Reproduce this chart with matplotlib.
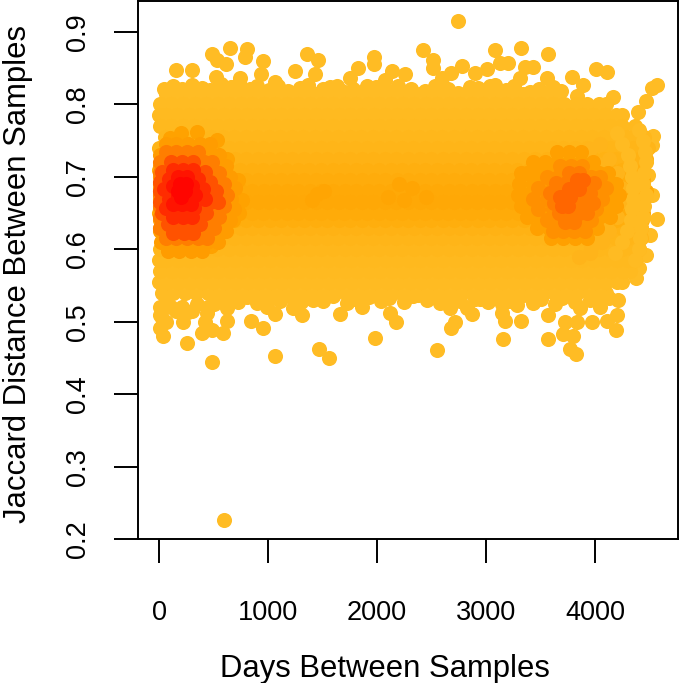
import matplotlib
matplotlib.use('Agg')
import matplotlib.pyplot as plt

plt.rcParams['font.family'] = ['Liberation Sans', 'DejaVu Sans']

# points standing clear of the cloud, read one by one
loose_x = [651, 807, 789, 486, 615, 532, 156, 303, 954, 936, 523, 1248, 1358, 1459, 1431, 1752, 1826, 1972, 1972, 2138,
           2257, 2073, 1908, 1633, 743, 1064, 2743, 2422, 2514, 2514, 3083, 3321, 3569, 2780, 2679, 2596, 2899, 3009,
           3128, 3202, 3358, 3431, 4009, 4110, 4569, 4523, 4468, 4394, 3083, 2927, 3312, 3560, 3789, 3890, 4165, 4532,
           4523, 4486, 4523, 4569, 4505, 4468, 4404, 4376, 596, 486, 257, 37, 9, 394, 486, 587, 624, 422, 220, 9, 844,
           954, 1064, 991, 1064, 1312, 1229, 1468, 1560, 1661, 1862, 1871, 1982, 2119, 2174, 1413, 2550, 2679, 2716,
           2872, 2826, 2670, 2945, 3156, 3174, 3147, 3147, 3321, 3284, 3569, 3569, 3706, 3798, 3771, 3826, 3725, 3835,
           3972, 4110, 4193, 4202, 4211, 2376, 2514, 3128, 4046, 3862, 624, 266, 440]
loose_y = [.878, .876, .865, .870, .856, .861, .848, .848, .860, .842, .838, .846, .870, .861, .842, .836, .850, .865,
           .856, .846, .842, .834, .825, .825, .836, .831, .915, .875, .861, .850, .875, .878, .870, .853, .843, .836,
           .843, .849, .857, .857, .852, .852, .849, .845, .827, .823, .805, .789, .827, .823, .836, .836, .838, .827,
           .810, .756, .744, .702, .675, .642, .620, .592, .574, .560, .226, .444, .470, .480, .491, .484, .488, .484,
           .501, .499, .499, .509, .501, .491, .510, .520, .452, .509, .519, .463, .450, .510, .520, .532, .477, .512,
           .499, .530, .461, .491, .499, .510, .519, .519, .531, .476, .501, .512, .524, .501, .523, .476, .509, .483,
           .480, .463, .455, .499, .499, .499, .501, .488, .509, .530, .537, .537, .546, .520, .519, .519, .513, .512]

# uneven upper and lower borders of the cloud
edge_x = [50, 130, 210, 300, 390, 470, 570, 660, 730, 830, 900, 1010, 1090, 1180, 1290, 1370, 1500, 1570, 1680, 1780, 1860, 1990, 2090, 2190, 2310, 2440, 2530, 2650, 2740, 2850, 2970, 3040, 3180, 3260, 3400, 3490, 3610, 3690, 3830,
          10, 60, 110, 160, 210, 30, 60, 300, 350, 450, 500, 550, 620, 720, 810, 900, 1000, 1110, 1190, 1300, 1380, 1500, 1600, 1720, 1800, 1930, 2040, 2110, 2250, 2330, 2460, 2580, 2690, 2760, 2900, 3020, 3090, 3210, 3320, 3430, 3500, 3630, 3700, 3820, 3950, 4040, 4130]
edge_y = [.822, .826, .821, .827, .823, .820, .828, .824, .829, .822, .826, .820, .825, .819, .823, .827, .821, .824, .818, .822, .817, .824, .819, .826, .822, .818, .825, .821, .816, .824, .819, .826, .820, .825, .817, .822, .824, .818, .812,
          .520, .525, .520, .515, .520, .505, .500, .515, .525, .520, .525, .530, .530, .527, .534, .526, .531, .528, .535, .527, .533, .529, .535, .526, .532, .534, .528, .533, .527, .535, .530, .526, .534, .528, .532, .527, .533, .529, .535, .526, .531, .525, .533, .527, .530, .528, .533]

# the cloud itself, row by row, from the palest rim inward
body_y = [.815, .540, .800, .555, .785, .570, .770, .585, .755, .600, .740, .615, .725, .630, .710, .640, .695, .650, .680, .665]
body_colors = ['#FFBC24', '#FFBC24', '#FFBB22', '#FFBB22', '#FFBA20', '#FFBA20', '#FFB91E', '#FFB91E', '#FFB71B', '#FFB71B',
               '#FFB518', '#FFB518', '#FFB214', '#FFB214', '#FFAF0F', '#FFAE0D', '#FFAC0B', '#FFAB09', '#FFA907', '#FFA806']
body_x = [
    [64, 168, 275, 379, 486, 590, 698, 801, 910, 1012, 1121, 1224, 1333, 1436, 1544, 1647, 1755, 1858, 1966, 2070, 2177, 2281, 2390, 2493, 2601, 2704, 2812, 2916, 3024, 3127, 3235, 3339, 3446, 3550, 3660],
    [24, 128, 236, 342, 446, 552, 660, 764, 870, 976, 1082, 1188, 1294, 1400, 1506, 1612, 1718, 1824, 1930, 2036, 2142, 2248, 2354, 2460, 2566, 2672, 2778, 2884, 2990, 3096, 3202, 3308, 3414, 3520, 3626, 3732, 3838, 3944, 4050, 4100],
    [8, 113, 221, 326, 431, 538, 643, 751, 855, 962, 1067, 1175, 1279, 1387, 1491, 1598, 1702, 1811, 1914, 2022, 2127, 2234, 2338, 2446, 2550, 2658, 2762, 2870, 2975, 3082, 3186, 3294, 3398, 3506, 3610, 3718, 3822, 3930, 4034, 4105],
    [3, 72, 178, 284, 392, 496, 604, 708, 816, 920, 1028, 1132, 1240, 1344, 1452, 1556, 1664, 1768, 1876, 1980, 2088, 2192, 2300, 2404, 2512, 2616, 2724, 2828, 2936, 3040, 3148, 3252, 3360, 3464, 3572, 3676, 3784, 3888, 3996, 4100, 4205, 4245],
    [2, 62, 166, 272, 378, 484, 592, 696, 803, 908, 1015, 1120, 1226, 1332, 1438, 1544, 1650, 1756, 1862, 1968, 2074, 2180, 2286, 2392, 2498, 2604, 2710, 2816, 2922, 3028, 3134, 3240, 3346, 3452, 3558, 3664, 3770, 3876, 3982, 4088, 4190, 4250],
    [6, 118, 224, 330, 438, 542, 650, 754, 862, 966, 1074, 1178, 1286, 1390, 1498, 1602, 1710, 1814, 1922, 2026, 2134, 2238, 2346, 2450, 2558, 2662, 2770, 2874, 2982, 3086, 3194, 3298, 3406, 3510, 3618, 3722, 3830, 3934, 4042, 4146, 4254, 4320],
    [5, 110, 218, 322, 430, 534, 642, 746, 854, 958, 1066, 1170, 1278, 1382, 1490, 1594, 1702, 1806, 1914, 2018, 2126, 2230, 2338, 2442, 2550, 2654, 2762, 2866, 2974, 3078, 3186, 3290, 3398, 3502, 3610, 3714, 3822, 3926, 4034, 4138, 4246, 4365],
    [2, 64, 172, 276, 384, 488, 596, 700, 808, 912, 1020, 1124, 1232, 1336, 1444, 1548, 1656, 1760, 1868, 1972, 2080, 2184, 2292, 2396, 2504, 2608, 2716, 2820, 2928, 3032, 3140, 3244, 3352, 3456, 3564, 3668, 3776, 3880, 3988, 4092, 4200, 4304, 4370],
    [52, 160, 264, 372, 476, 584, 688, 796, 900, 1008, 1112, 1220, 1324, 1432, 1536, 1644, 1748, 1856, 1960, 2068, 2172, 2280, 2384, 2492, 2596, 2704, 2808, 2916, 3020, 3128, 3232, 3340, 3444, 3552, 3656, 3764, 3868, 3976, 4080, 4188, 4292, 4400, 4450],
    [6, 112, 218, 324, 430, 536, 642, 748, 854, 960, 1066, 1172, 1278, 1384, 1490, 1596, 1702, 1808, 1914, 2020, 2126, 2232, 2338, 2444, 2550, 2656, 2762, 2868, 2974, 3080, 3186, 3292, 3398, 3504, 3610, 3716, 3822, 3928, 4034, 4140, 4246, 4352, 4400],
    [4, 106, 214, 318, 426, 530, 638, 742, 850, 954, 1062, 1166, 1274, 1378, 1486, 1590, 1698, 1802, 1910, 2014, 2122, 2226, 2334, 2438, 2546, 2650, 2758, 2862, 2970, 3074, 3182, 3286, 3394, 3498, 3606, 3710, 3818, 3922, 4030, 4134, 4242, 4346, 4488],
    [56, 162, 268, 374, 480, 586, 692, 798, 904, 1010, 1116, 1222, 1328, 1434, 1540, 1646, 1752, 1858, 1964, 2070, 2176, 2282, 2388, 2494, 2600, 2706, 2812, 2918, 3024, 3130, 3236, 3342, 3448, 3554, 3660, 3766, 3872, 3978, 4084, 4190, 4296, 4420],
    [58, 164, 270, 376, 482, 588, 694, 800, 906, 1012, 1118, 1224, 1330, 1436, 1542, 1648, 1754, 1860, 1966, 2072, 2178, 2284, 2390, 2496, 2602, 2708, 2814, 2920, 3026, 3132, 3238, 3344, 3450, 3556, 3662, 3768, 3874, 3980, 4086, 4192, 4298, 4404, 4470],
    [8, 114, 220, 326, 432, 538, 644, 750, 856, 962, 1068, 1174, 1280, 1386, 1492, 1598, 1704, 1810, 1916, 2022, 2128, 2234, 2340, 2446, 2552, 2658, 2764, 2870, 2976, 3082, 3188, 3294, 3400, 3506, 3612, 3718, 3824, 3930, 4036, 4142, 4248, 4354, 4420],
    [4, 108, 216, 320, 428, 532, 640, 744, 852, 956, 1064, 1168, 1276, 1380, 1488, 1592, 1700, 1804, 1912, 2016, 2124, 2228, 2336, 2440, 2548, 2652, 2760, 2864, 2972, 3076, 3184, 3288, 3396, 3500, 3608, 3712, 3820, 3924, 4032, 4136, 4244, 4348, 4440],
    [60, 166, 272, 378, 484, 590, 696, 802, 908, 1014, 1120, 1226, 1332, 1438, 1544, 1650, 1756, 1862, 1968, 2074, 2180, 2286, 2392, 2498, 2604, 2710, 2816, 2922, 3028, 3134, 3240, 3346, 3452, 3558, 3664, 3770, 3876, 3982, 4088, 4194, 4300, 4430],
    [60, 166, 272, 378, 484, 590, 696, 802, 908, 1014, 1120, 1226, 1332, 1438, 1544, 1650, 1756, 1862, 1968, 2074, 2180, 2286, 2392, 2498, 2604, 2710, 2816, 2922, 3028, 3134, 3240, 3346, 3452, 3558, 3664, 3770, 3876, 3982, 4088, 4194, 4300, 4440],
    [4, 110, 216, 322, 428, 534, 640, 746, 852, 958, 1064, 1170, 1276, 1382, 1488, 1594, 1700, 1806, 1912, 2018, 2124, 2230, 2336, 2442, 2548, 2654, 2760, 2866, 2972, 3078, 3184, 3290, 3396, 3502, 3608, 3714, 3820, 3926, 4032, 4138, 4244, 4350, 4440],
    [6, 112, 218, 324, 430, 536, 642, 748, 854, 960, 1066, 1172, 1278, 1384, 1490, 1596, 1702, 1808, 1914, 2020, 2126, 2232, 2338, 2444, 2550, 2656, 2762, 2868, 2974, 3080, 3186, 3292, 3398, 3504, 3610, 3716, 3822, 3928, 4034, 4140, 4246, 4352, 4470],
    [58, 164, 270, 376, 482, 588, 694, 800, 906, 1012, 1118, 1224, 1330, 1436, 1542, 1648, 1754, 1860, 1966, 2072, 2178, 2284, 2390, 2496, 2602, 2708, 2814, 2920, 3026, 3132, 3238, 3344, 3450, 3556, 3662, 3768, 3874, 3980, 4086, 4192, 4298, 4440],
]

# the right end of the cloud stays pale, in a rounded front
side_mid_x = [4050, 3950, 4130, 4030, 4200, 4100, 4240, 4140, 4240, 4140, 4200, 4100, 4130, 4030, 4060, 3960, 3950, 3850]
side_mid_y = [.745, .738, .725, .718, .705, .698, .685, .678, .665, .658, .645, .638, .625, .618, .610, .603, .595, .590]
side_pale_x = [4400, 4440, 4460, 4470, 4450, 4440, 4470, 4450, 4440, 4420, 4410, 4400, 4370, 4200, 4250, 4300, 4320, 4340, 4350, 4350, 4340, 4330, 4290, 4250, 4180]
side_pale_y = [.765, .750, .735, .720, .705, .690, .675, .660, .645, .630, .615, .600, .585, .760, .745, .730, .715, .700, .685, .670, .655, .640, .625, .610, .595]

# warmer spots along the middle of the cloud
warm_x = [1450, 1510, 1400, 2200, 2320, 2100, 2250, 2450]
warm_y = [.676, .680, .668, .690, .685, .672, .668, .672]

# left hot spot, pale to red
left_pre_x = [100, 200, 350, 530, 620, 720, 760, 730, 680, 590, 480, 300, 100]
left_pre_y = [.754, .760, .762, .751, .725, .695, .668, .650, .640, .626, .605, .606, .613]
left_a_y = [.745, .730, .715, .700, .685, .670, .655, .640, .625, .610, .597]
left_a_x = [
    [60, 160, 270, 380, 470],
    [10, 110, 220, 330, 440, 550],
    [5, 60, 170, 280, 390, 500, 610],
    [5, 110, 220, 330, 440, 550, 650],
    [5, 60, 170, 280, 390, 500, 610, 700],
    [5, 110, 220, 330, 440, 550, 660],
    [5, 60, 170, 280, 390, 500, 610, 690],
    [5, 110, 220, 330, 440, 550, 650],
    [5, 60, 170, 280, 390, 500, 610],
    [20, 120, 230, 340, 440, 540],
    [80, 180, 290, 390],
]
left_b_y = [.735, .720, .705, .690, .675, .660, .645, .630, .615]
left_b_x = [
    [60, 160, 260, 360],
    [5, 110, 210, 310, 410, 490],
    [5, 60, 160, 260, 360, 460, 550],
    [5, 110, 210, 310, 410, 510, 600],
    [5, 60, 160, 260, 360, 460, 560, 620],
    [5, 110, 210, 310, 410, 510, 600],
    [5, 60, 160, 260, 360, 460, 550],
    [10, 110, 210, 310, 410, 500],
    [60, 160, 260, 360, 440],
]
left_c_y = [.720, .707, .693, .680, .665, .650, .635, .622]
left_c_x = [
    [110, 210, 310],
    [30, 130, 230, 330, 420],
    [5, 80, 180, 280, 380, 470],
    [5, 130, 230, 330, 430, 520],
    [5, 80, 180, 280, 380, 470, 540],
    [30, 130, 230, 330, 430],
    [80, 180, 280, 380],
    [130, 230, 310],
]
left_d_y = [.710, .697, .683, .670, .657, .645]
left_d_x = [
    [130, 220, 310],
    [90, 180, 270, 360],
    [50, 140, 230, 320, 400],
    [90, 180, 270, 360, 420],
    [60, 140, 230, 320],
    [130, 220, 300],
]
left_e_y = [.700, .688, .675, .662]
left_e_x = [
    [170, 260],
    [130, 215, 300],
    [170, 260, 330],
    [130, 215, 290],
]
left_f_y = [.690, .680, .672]
left_f_x = [
    [195, 250],
    [175, 235],
    [205],
]

# right hot spot
right_a_y = [.735, .720, .705, .690, .675, .660, .645, .630, .615]
right_a_x = [
    [3650, 3760, 3870],
    [3430, 3540, 3650, 3760, 3870, 3980],
    [3320, 3380, 3490, 3600, 3710, 3820, 3930, 4040, 4120],
    [3300, 3430, 3540, 3650, 3760, 3870, 3980, 4090, 4190],
    [3290, 3380, 3490, 3600, 3710, 3820, 3930, 4040, 4150, 4220],
    [3320, 3430, 3540, 3650, 3760, 3870, 3980, 4090, 4190],
    [3380, 3490, 3600, 3710, 3820, 3930, 4040, 4140],
    [3470, 3580, 3690, 3800, 3910, 4020],
    [3600, 3710, 3820, 3930],
]
right_b_y = [.715, .700, .685, .670, .655, .640, .625]
right_b_x = [
    [3680, 3780, 3880],
    [3560, 3660, 3760, 3860, 3960, 4050],
    [3480, 3610, 3710, 3810, 3910, 4010, 4100],
    [3430, 3560, 3660, 3760, 3860, 3960, 4060],
    [3480, 3610, 3710, 3810, 3910, 4010],
    [3560, 3660, 3760, 3860, 3960],
    [3610, 3710, 3810, 3910],
]
right_c_y = [.705, .692, .678, .664, .650, .637]
right_c_x = [
    [3760, 3850],
    [3640, 3730, 3820, 3910, 3990],
    [3590, 3680, 3770, 3860, 3950],
    [3620, 3710, 3800, 3890, 3980],
    [3670, 3760, 3850, 3930],
    [3720, 3810],
]
right_d_y = [.695, .683, .672, .660]
right_d_x = [
    [3830, 3890],
    [3760, 3850],
    [3680, 3770],
    [3700, 3750],
]

fig = plt.figure(figsize=(6.79, 6.83), dpi=100)
ax = fig.add_axes([138 / 679, 1 - 539 / 683, 540 / 679, 538 / 683])


def draw_rows(row_ys, row_xs, color):
    for y, row in zip(row_ys, row_xs):
        ax.scatter(row, [y] * len(row), s=118, c=color, linewidths=0, zorder=2)


ax.scatter(loose_x, loose_y, s=118, c='#FFBC24', linewidths=0, zorder=2)
ax.scatter(edge_x, edge_y, s=118, c='#FFBC24', linewidths=0, zorder=2)
for y, row, color in zip(body_y, body_x, body_colors):
    draw_rows([y], [row], color)
ax.scatter(side_mid_x, side_mid_y, s=118, c='#FFB41A', linewidths=0, zorder=2)
ax.scatter(side_pale_x, side_pale_y, s=118, c='#FFBB22', linewidths=0, zorder=2)
ax.scatter(warm_x, warm_y, s=118, c='#FFA503', linewidths=0, zorder=2)

draw_rows(right_a_y, right_a_x, '#FFA000')
draw_rows(right_b_y, right_b_x, '#FF9000')
draw_rows(right_c_y, right_c_x, '#FF7C00')
draw_rows(right_d_y, right_d_x, '#FF6600')
ax.scatter(left_pre_x, left_pre_y, s=118, c='#FFA200', linewidths=0, zorder=2)
draw_rows(left_a_y, left_a_x, '#FF9C00')
draw_rows(left_b_y, left_b_x, '#FF7E00')
draw_rows(left_c_y, left_c_x, '#FF5200')
draw_rows(left_d_y, left_d_x, '#FF2C00')
draw_rows(left_e_y, left_e_x, '#FF1400')
draw_rows(left_f_y, left_f_x, '#FF0500')

ax.set_xlim(-193, 4761)
ax.set_ylim(0.2, 0.9 + 31 / 724)
ax.set_xticks([0, 1000, 2000, 3000, 4000])
ax.set_yticks([.2, .3, .4, .5, .6, .7, .8, .9])
ax.set_yticklabels(['0.2', '0.3', '0.4', '0.5', '0.6', '0.7', '0.8', '0.9'], rotation=90, va='center')
ax.tick_params(axis='x', length=17, width=1.4, labelsize=19.5, pad=27)
ax.tick_params(axis='y', length=17, width=1.4, labelsize=19.5, pad=17)
for spine in ax.spines.values():
    spine.set_linewidth(1.4)
ax.set_xlabel('Days Between Samples', fontsize=22.3)
ax.set_ylabel('Jaccard Distance Between Samples', fontsize=22.3)
ax.xaxis.set_label_coords(0.457, -0.2138)
ax.yaxis.set_label_coords(-0.1944, 0.4926)

fig.savefig('out.png', dpi=100)
